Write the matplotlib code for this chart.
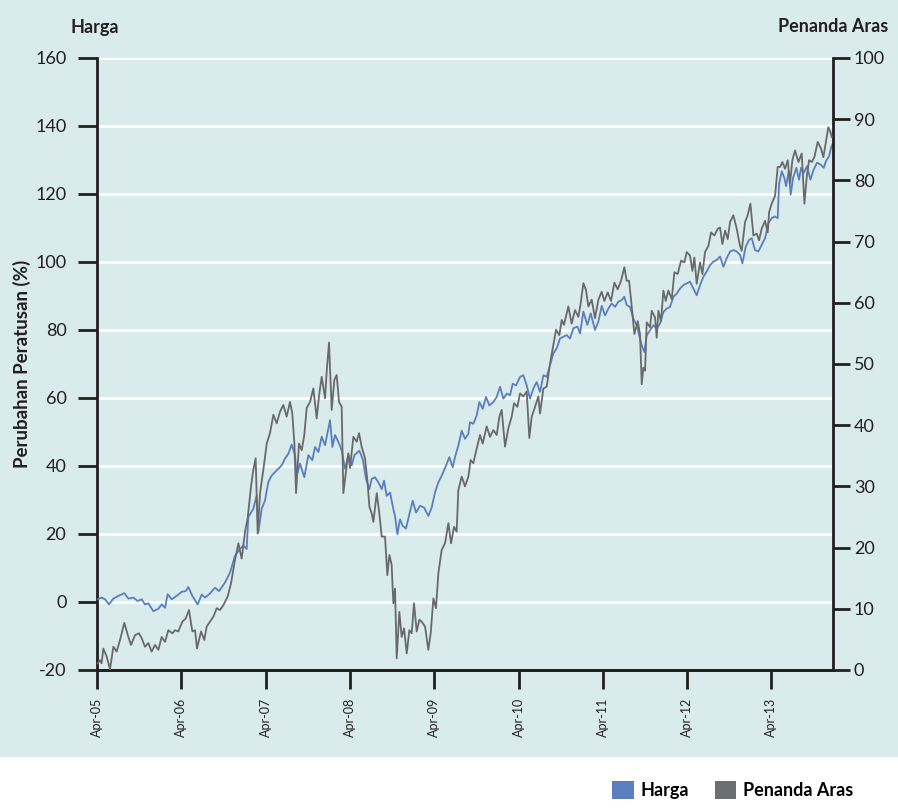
import numpy as np
import matplotlib
matplotlib.use('Agg')
import matplotlib.pyplot as plt
from matplotlib.patches import Patch, Rectangle

plt.rcParams['font.family'] = ['Lato', 'DejaVu Sans']

# years since Apr-05
harga_t = [0.01, 0.055, 0.095, 0.142, 0.194, 0.253, 0.324, 0.372, 0.431, 0.482, 0.53, 0.569, 0.609,
           0.668, 0.728, 0.767, 0.807, 0.838, 0.886, 0.945, 1.004, 1.052, 1.083, 1.131, 1.194, 1.242,
           1.281, 1.34, 1.4, 1.447, 1.518, 1.578, 1.637, 1.696, 1.736, 1.775, 1.795, 1.854, 1.894,
           1.914, 1.953, 1.993, 2.032, 2.072, 2.111, 2.151, 2.191, 2.23, 2.27, 2.309, 2.349, 2.369,
           2.408, 2.459, 2.507, 2.554, 2.586, 2.626, 2.665, 2.705, 2.764, 2.792, 2.823, 2.863, 2.902,
           2.942, 2.981, 3.021, 3.053, 3.112, 3.152, 3.191, 3.231, 3.258, 3.298, 3.337, 3.377, 3.405,
           3.436, 3.476, 3.515, 3.535, 3.563, 3.594, 3.626, 3.665, 3.705, 3.745, 3.784, 3.832, 3.879,
           3.93, 3.97, 4.009, 4.049, 4.088, 4.14, 4.179, 4.219, 4.246, 4.286, 4.326, 4.365, 4.405,
           4.424, 4.464, 4.504, 4.535, 4.575, 4.614, 4.654, 4.701, 4.741, 4.781, 4.82, 4.86, 4.899,
           4.931, 4.97, 5.018, 5.057, 5.097, 5.136, 5.176, 5.215, 5.255, 5.295, 5.334, 5.374, 5.413,
           5.453, 5.492, 5.532, 5.571, 5.611, 5.65, 5.698, 5.73, 5.769, 5.816, 5.856, 5.907, 5.947,
           5.987, 6.026, 6.066, 6.105, 6.145, 6.184, 6.224, 6.255, 6.283, 6.323, 6.362, 6.402, 6.441,
           6.461, 6.493, 6.52, 6.56, 6.599, 6.639, 6.679, 6.718, 6.758, 6.797, 6.837, 6.876, 6.916,
           6.955, 6.995, 7.034, 7.074, 7.113, 7.153, 7.193, 7.232, 7.272, 7.311, 7.351, 7.39, 7.43,
           7.469, 7.509, 7.548, 7.588, 7.627, 7.655, 7.695, 7.734, 7.766, 7.805, 7.845, 7.884, 7.924,
           7.963, 8.003, 8.043, 8.074, 8.09, 8.122, 8.153, 8.173, 8.205, 8.228, 8.256, 8.295, 8.327,
           8.351, 8.383, 8.422, 8.462, 8.501, 8.541, 8.58, 8.62, 8.647, 8.683, 8.707, 8.723]
harga = [0.8, 1.3, 0.8, -0.7, 1.0, 1.8, 2.6, 1.0, 1.3, 0.3, 0.8, -0.7, -0.4,
         -2.7, -2.0, -0.7, -1.7, 2.3, 0.8, 1.8, 3.0, 3.2, 4.4, 1.8, -0.7, 2.2,
         1.3, 2.5, 4.2, 3.2, 5.7, 8.7, 13.6, 15.6, 16.6, 15.6, 25.0, 27.4, 31.3,
         20.5, 27.4, 29.9, 35.3, 37.2, 38.2, 39.2, 40.2, 42.2, 43.6, 46.3, 43.2, 37.2,
         40.7, 36.7, 43.2, 41.7, 45.6, 44.1, 48.6, 46.1, 53.5, 45.6, 49.1, 47.1, 44.6,
         39.2, 43.2, 40.2, 43.2, 44.5, 42.0, 36.2, 33.2, 36.2, 36.7, 35.2, 33.2, 35.7,
         31.2, 32.2, 27.3, 25.3, 19.9, 24.3, 22.4, 21.6, 25.8, 29.8, 26.3, 28.3, 27.8,
         25.3, 27.8, 32.2, 35.2, 37.1, 40.1, 42.6, 39.6, 42.6, 46.0, 50.4, 48.0, 49.5,
         52.9, 52.4, 54.9, 58.8, 56.8, 60.3, 57.8, 58.8, 60.3, 63.3, 59.8, 61.3, 60.8,
         64.2, 63.7, 66.2, 66.7, 63.7, 59.8, 62.8, 64.7, 61.8, 66.7, 66.2, 69.7, 73.1,
         74.6, 77.5, 78.0, 78.5, 77.5, 80.5, 81.0, 79.0, 85.4, 81.5, 84.9, 80.0, 82.5,
         87.1, 84.3, 86.3, 87.8, 86.8, 88.3, 88.8, 89.8, 87.3, 86.8, 83.3, 81.4, 77.4,
         75.5, 73.5, 78.4, 79.9, 81.4, 80.4, 81.9, 85.3, 86.3, 86.8, 89.8, 90.7, 92.2,
         93.2, 93.7, 94.2, 92.2, 90.2, 93.2, 95.7, 97.2, 99.1, 100.1, 100.6, 101.6, 98.6,
         101.1, 103.1, 103.5, 103.1, 102.1, 99.6, 104.5, 106.5, 107.0, 103.5, 103.1, 105.0, 107.0,
         111.4, 112.9, 113.4, 112.9, 122.8, 126.7, 124.7, 122.3, 126.7, 119.8, 124.7, 127.7, 124.2,
         127.7, 126.2, 128.2, 124.2, 127.2, 129.2, 128.7, 127.7, 129.7, 131.1, 133.6, 134.6]

aras_t = [0.01, 0.036, 0.055, 0.075, 0.115, 0.154, 0.194, 0.233, 0.273, 0.324, 0.372, 0.403, 0.451,
          0.498, 0.53, 0.569, 0.609, 0.648, 0.688, 0.728, 0.767, 0.807, 0.846, 0.894, 0.925, 0.965,
          1.012, 1.052, 1.091, 1.131, 1.163, 1.186, 1.234, 1.273, 1.301, 1.34, 1.38, 1.42, 1.459,
          1.499, 1.55, 1.59, 1.637, 1.677, 1.716, 1.756, 1.787, 1.827, 1.854, 1.882, 1.906, 1.934,
          1.973, 2.013, 2.052, 2.092, 2.131, 2.171, 2.21, 2.25, 2.289, 2.317, 2.341, 2.361, 2.396,
          2.428, 2.459, 2.487, 2.527, 2.566, 2.606, 2.633, 2.665, 2.705, 2.724, 2.752, 2.784, 2.815,
          2.843, 2.871, 2.902, 2.922, 2.95, 2.981, 3.001, 3.041, 3.08, 3.108, 3.139, 3.179, 3.207,
          3.231, 3.258, 3.278, 3.318, 3.349, 3.377, 3.416, 3.444, 3.468, 3.495, 3.515, 3.535, 3.555,
          3.586, 3.614, 3.642, 3.674, 3.705, 3.733, 3.76, 3.792, 3.824, 3.851, 3.891, 3.93, 3.958,
          3.99, 4.021, 4.049, 4.088, 4.128, 4.168, 4.199, 4.235, 4.266, 4.286, 4.326, 4.365, 4.405,
          4.432, 4.464, 4.504, 4.543, 4.575, 4.622, 4.662, 4.701, 4.741, 4.773, 4.8, 4.84, 4.879,
          4.919, 4.947, 4.986, 5.018, 5.057, 5.097, 5.128, 5.156, 5.196, 5.235, 5.255, 5.295, 5.334,
          5.374, 5.413, 5.445, 5.484, 5.512, 5.539, 5.591, 5.63, 5.67, 5.71, 5.737, 5.769, 5.8,
          5.828, 5.868, 5.907, 5.947, 5.986, 6.018, 6.058, 6.097, 6.137, 6.176, 6.216, 6.255, 6.283,
          6.311, 6.342, 6.374, 6.414, 6.441, 6.461, 6.481, 6.501, 6.52, 6.56, 6.58, 6.619, 6.639,
          6.659, 6.69, 6.718, 6.746, 6.777, 6.817, 6.849, 6.888, 6.928, 6.967, 6.995, 7.034, 7.062,
          7.086, 7.113, 7.153, 7.181, 7.212, 7.252, 7.284, 7.323, 7.363, 7.39, 7.418, 7.45, 7.481,
          7.509, 7.548, 7.588, 7.627, 7.647, 7.687, 7.718, 7.75, 7.786, 7.826, 7.853, 7.884, 7.924,
          7.956, 7.972, 8.003, 8.043, 8.074, 8.102, 8.13, 8.161, 8.193, 8.22, 8.248, 8.28, 8.32,
          8.359, 8.391, 8.418, 8.446, 8.478, 8.509, 8.549, 8.588, 8.616, 8.643, 8.675, 8.699, 8.715]
aras = [1.1, 1.6, 1.1, 3.5, 2.2, 0.1, 3.8, 3.0, 4.9, 7.7, 5.4, 4.1, 5.7,
        6.0, 5.2, 3.8, 4.4, 3.0, 4.1, 3.3, 5.4, 4.6, 6.5, 6.0, 6.5, 6.3,
        7.9, 8.4, 9.8, 6.3, 6.5, 3.5, 6.3, 4.9, 7.1, 7.9, 8.7, 10.1, 9.8,
        10.6, 12.0, 14.2, 18.0, 20.7, 18.2, 22.6, 24.8, 30.0, 32.7, 34.6, 22.3, 28.9,
        32.7, 37.0, 38.7, 41.7, 40.3, 42.2, 43.3, 41.4, 43.8, 41.9, 37.0, 28.9, 37.0,
        35.9, 38.4, 42.8, 43.8, 46.0, 41.1, 44.7, 47.9, 44.4, 48.7, 53.5, 42.5, 47.4,
        48.2, 43.8, 43.0, 28.9, 32.1, 35.4, 33.0, 38.1, 37.3, 38.7, 36.5, 34.6, 31.0,
        26.7, 25.6, 24.2, 28.9, 25.6, 21.8, 21.8, 15.5, 18.8, 17.2, 10.9, 13.3, 1.9,
        9.5, 5.4, 6.8, 2.7, 6.5, 6.0, 10.9, 6.3, 8.2, 7.9, 7.1, 3.3, 6.0,
        11.7, 10.1, 15.8, 19.6, 20.7, 24.0, 20.7, 23.4, 22.6, 29.4, 31.6, 30.0, 31.6,
        34.3, 33.8, 36.2, 38.4, 37.0, 39.8, 38.1, 39.2, 38.4, 41.4, 42.5, 36.5, 39.5,
        41.4, 43.6, 43.0, 45.2, 44.7, 45.5, 37.9, 41.4, 43.0, 44.7, 41.9, 46.0, 46.3,
        50.1, 53.1, 55.6, 54.7, 57.2, 56.4, 59.4, 56.6, 58.8, 57.7, 59.9, 63.2, 62.1,
        59.4, 60.5, 57.5, 60.5, 61.8, 60.3, 61.7, 60.3, 63.3, 62.2, 63.6, 65.8, 63.6,
        63.6, 59.5, 54.9, 57.0, 54.9, 46.7, 49.4, 48.9, 56.8, 56.0, 58.7, 57.6, 54.3,
        58.7, 57.0, 62.0, 60.3, 62.0, 60.6, 65.0, 64.7, 66.9, 66.6, 68.3, 67.7, 65.2,
        67.4, 63.1, 66.6, 64.7, 68.3, 69.3, 71.5, 71.0, 72.1, 72.3, 69.6, 71.8, 70.4,
        73.2, 74.3, 72.1, 69.3, 68.5, 73.2, 74.3, 76.2, 71.0, 71.3, 70.2, 72.1, 73.4,
        71.5, 74.8, 76.2, 77.5, 82.2, 82.2, 83.0, 81.9, 83.3, 79.5, 83.3, 84.9, 83.0,
        84.4, 76.2, 80.5, 83.3, 83.0, 83.8, 86.3, 85.2, 83.8, 86.0, 88.7, 87.9, 87.1]

x_labels = ['Apr-05', 'Apr-06', 'Apr-07', 'Apr-08', 'Apr-09', 'Apr-10', 'Apr-11', 'Apr-12', 'Apr-13']
left_ticks = [-20, 0, 20, 40, 60, 80, 100, 120, 140, 160]
right_ticks = [0, 10, 20, 30, 40, 50, 60, 70, 80, 90, 100]

bg = '#d9ebeb'
blue = '#5a7ec0'
grey = '#69696b'
ink = '#231f20'
W = 898.0
H = 808.0

fig = plt.figure(figsize=(8.98, 8.08), dpi=100, facecolor=bg)
# white strip under the teal panel, where the legend sits
fig.patches.append(Rectangle((0, 0), 1, 1 - 757 / H, transform=fig.transFigure,
                             facecolor='white', edgecolor='none', zorder=-10))

ax = fig.add_axes([97 / W, 1 - 670 / H, (833 - 97) / W, (670 - 58) / H])
ax.set_facecolor(bg)
ax2 = ax.twinx()

for y in left_ticks:
    ax.axhline(y, color='white', lw=2.2, zorder=1)

ax.plot(harga_t, harga, color=blue, lw=1.3, zorder=3)
ax2.plot(aras_t, aras, color=grey, lw=1.3, zorder=3)

ax.set_xlim(0, 8.73)
ax.set_ylim(-20, 160)
ax2.set_ylim(0, 100)
ax.set_xticks(range(len(x_labels)))
ax.set_xticklabels(x_labels, rotation=90, fontsize=9)
ax.set_yticks(left_ticks)
ax.set_yticklabels([str(v) for v in left_ticks], fontsize=13)
ax2.set_yticks(right_ticks)
ax2.set_yticklabels([str(v) for v in right_ticks], fontsize=13)

for a in (ax, ax2):
    a.spines['top'].set_visible(False)
    for s in ('left', 'right', 'bottom'):
        a.spines[s].set_linewidth(2)
        a.spines[s].set_color(ink)
ax.spines['right'].set_visible(False)
ax2.spines['left'].set_visible(False)

ax.tick_params(axis='y', length=14, width=2, color=ink, pad=8, labelcolor=ink)
ax.tick_params(axis='x', length=14, width=2, color=ink, pad=6, labelcolor=ink)
ax2.tick_params(axis='y', length=12, width=2, color=ink, pad=3, labelcolor=ink)

ax.set_ylabel('Perubahan Peratusan (%)', fontsize=13.5, fontweight='bold', color=ink)
ax.yaxis.set_label_coords(-66 / (833 - 97), 0.5)

fig.text(70 / W, 1 - 27 / H, 'Harga', fontsize=13, fontweight='bold', color=ink, va='center', ha='left')
fig.text(888 / W, 1 - 27 / H, 'Penanda Aras', fontsize=13, fontweight='bold', color=ink,
         va='center', ha='right')

handles = [Patch(facecolor=blue, label='Harga'), Patch(facecolor='#6d6e71', label='Penanda Aras')]
fig.legend(handles=handles, loc='center right', bbox_to_anchor=(870 / W, 1 - 790 / H), ncol=2,
           frameon=False, handlelength=1.2, handleheight=1.2, handletextpad=0.4, columnspacing=1.4,
           prop={'weight': 'bold', 'size': 13})

fig.savefig('out.png', dpi=100, facecolor=bg)
